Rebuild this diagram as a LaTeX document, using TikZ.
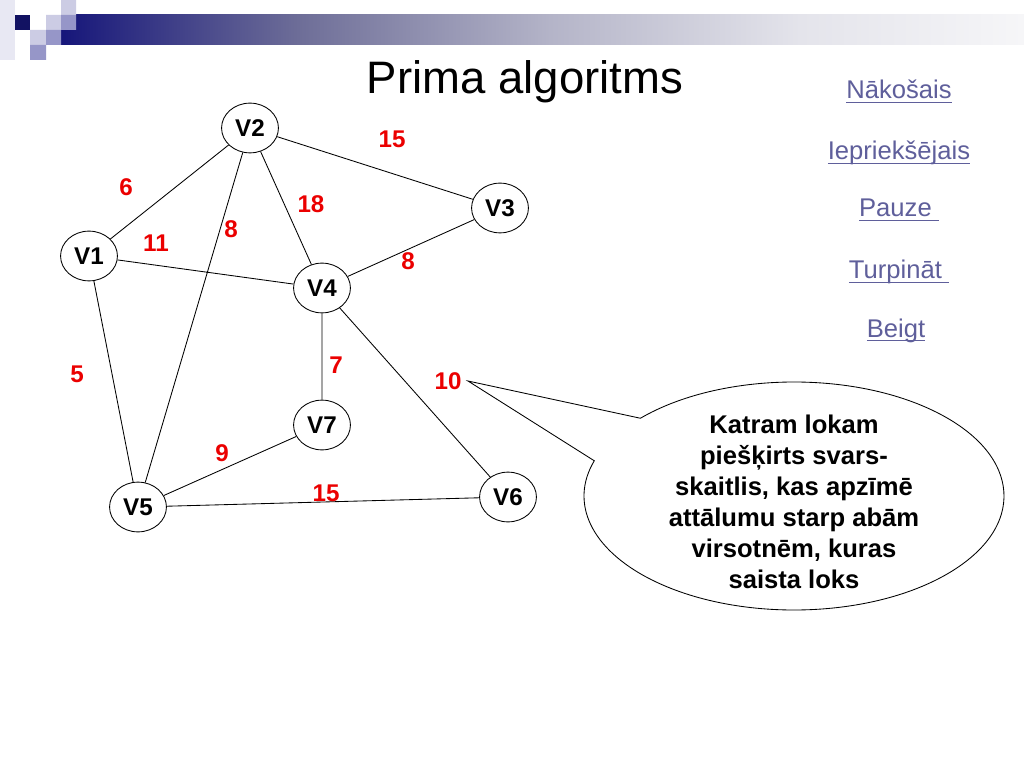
\documentclass[tikz,border=0pt]{standalone}
\usepackage{fontspec}
\setmainfont{Liberation Sans}
\usetikzlibrary{shapes.geometric,calc}
\definecolor{navy}{RGB}{22,22,122}
\definecolor{barA}{RGB}{110,110,152}
\definecolor{barB}{RGB}{180,180,200}
\definecolor{barC}{RGB}{228,228,235}
\definecolor{barD}{RGB}{246,246,248}
\definecolor{sqlight}{RGB}{204,204,228}
\definecolor{sqmid}{RGB}{150,150,200}
\definecolor{lnkc}{RGB}{95,95,155}
\definecolor{wred}{RGB}{235,0,0}
\newcommand{\lnk}[1]{\setbox0\hbox{#1}\rlap{\rule[-2.8pt]{\wd0}{0.9pt}}\box0}

\begin{document}
\begin{tikzpicture}[x=0.703125pt, y=-0.703125pt, line width=0.6pt,
    vert/.style={draw, ellipse, minimum width=40pt, minimum height=35pt, inner sep=0pt, font=\fontsize{17}{20}\selectfont\bfseries},
    wt/.style={text=wred, inner sep=0pt, font=\fontsize{17}{20}\selectfont\bfseries},
    link/.style={text=lnkc, inner sep=0pt, anchor=base, font=\fontsize{18}{21}\selectfont}]
  \useasboundingbox (0,0) rectangle (1024,768);
  \fill[white] (0,0) rectangle (1024,768);
  \shade[left color=navy, right color=barA] (61,15) rectangle (300.5,45);
  \shade[left color=barA, right color=barB] (300,15) rectangle (550.5,45);
  \shade[left color=barB, right color=barC] (550,15) rectangle (800.5,45);
  \shade[left color=barC, right color=barD] (800,15) rectangle (1024,45);
  \fill[sqlight!45!white] (0,0) rectangle (15,60);
  \fill[sqlight] (61,0) rectangle (76,15) (46,15) rectangle (61,30) (30,30) rectangle (46,45);
  \fill[navy!80!black] (15,15) rectangle (30,30);
  \fill[sqmid] (61,15) rectangle (76,30) (46,30) rectangle (61,45) (30,45) rectangle (46,60);
  \node[anchor=base, font=\fontsize{32}{38}\selectfont] (title) at (525,94) {Prima algoritms};

  \node[vert] (v2) at (250,128) {V2};
  \node[vert] (v3) at (500,208) {V3};
  \node[vert] (v1) at (89,256) {V1};
  \node[vert] (v4) at (322,288) {V4};
  \node[vert] (v7) at (322,425) {V7};
  \node[vert] (v5) at (138,507) {V5};
  \node[vert] (v6) at (508,497) {V6};
  \draw (v1)--(v2) (v2)--(v3) (v2)--(v4) (v2)--(v5) (v1)--(v4) (v4)--(v3)
        (v1)--(v5) (v4)--(v7) (v4)--(v6) (v7)--(v5) (v5)--(v6);

  \node[wt] (w12) at (126,187) {6};
  \node[wt] (w23) at (392,139) {15};
  \node[wt] (w24) at (311,204) {18};
  \node[wt] (w25) at (231,229) {8};
  \node[wt] (w14) at (156,243) {11};
  \node[wt] (w34) at (408,261) {8};
  \node[wt] (w15) at (77,374) {5};
  \node[wt] (w47) at (336,365) {7};
  \node[wt] (w46) at (448,381) {10};
  \node[wt] (w57) at (222,453) {9};
  \node[wt] (w56) at (326,493) {15};

  \coordinate (co) at (794,496);
  \coordinate (tip) at (468,381);
  \draw[fill=white] ($(co)+(223:210 and 114)$) arc[start angle=223, end angle=558, x radius=210, y radius=114] -- (tip) -- cycle;
  \node[align=center, font=\fontsize{18}{21.8}\selectfont\bfseries] (note) at (794,502)
    {Katram lokam\\piešķirts svars-\\skaitlis, kas apzīmē\\attālumu starp abām\\virsotnēm, kuras\\saista loks};

  \node[link] (next) at (899,99) {\lnk{Nākošais}};
  \node[link] (prev) at (899,160) {\lnk{Iepriekšējais}};
  \node[link] (pause) at (899,217) {\lnk{Pauze\ }};
  \node[link] (cont) at (899,279) {\lnk{Turpināt\ }};
  \node[link] (stop) at (896,337) {\lnk{Beigt}};
\end{tikzpicture}
\end{document}
